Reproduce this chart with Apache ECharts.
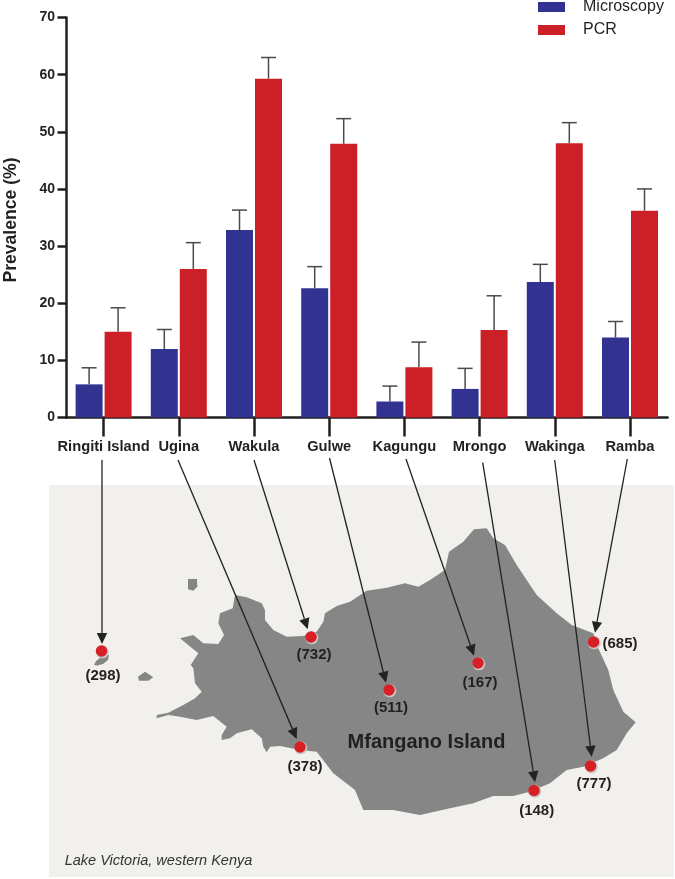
<!DOCTYPE html>
<html><head><meta charset="utf-8">
<style>html,body{margin:0;padding:0;background:#fff}#c{width:675px;height:879px}</style>
<script src="https://cdn.jsdelivr.net/npm/echarts@6/dist/echarts.min.js"></script>
</head><body><div id="c"></div>
<script>
const categories = ['Ringiti Island','Ugina','Wakula','Gulwe','Kagungu','Mrongo','Wakinga','Ramba'];
const microscopy = [5.8,12,32.8,22.6,2.8,5,23.7,14];
const pcr = [15,26,59.3,47.9,8.8,15.3,48,36.2];
const microscopyUpper = [8.7,15.4,36.3,26.4,5.5,8.6,26.8,16.8];
const pcrUpper = [19.2,30.6,63,52.3,13.2,21.3,51.6,40];
const yTicks = [0,10,20,30,40,50,60,70];

// Map layer, in map units (same scale as the picture)
const panel = [[49,485],[674,485],[674,877],[49,877]];
const island = [[235,595],[246.7,597.3],[261.7,603.3],[265,610],[265,620],[273.3,630],[286.7,636.7],[303.3,636],[316.7,631.7],[323.3,621.7],[325,613.3],[336.7,606],[350,601.7],[366.7,590.7],[386.7,587.7],[405,583.3],[418.3,586.7],[430,580],[445,570],[449,551.7],[463.3,541.7],[474,529.3],[486.7,528.3],[493.3,538.3],[505,545],[516.7,565],[536.7,595],[556.7,613.3],[571.7,625],[593.3,633.3],[598.3,648.3],[608.3,670],[613.3,690],[623.3,711.7],[635.7,722.3],[626.7,733.3],[616.7,750],[603.3,758.3],[583.3,766.7],[566.7,770],[550,783.3],[530,791.7],[513.3,796],[493.3,796],[473.3,803.3],[450,808.3],[420,815],[393.3,810],[363.3,810],[355,790],[333.3,773.3],[316.7,751.7],[300,750],[280,746],[270,746.7],[266.7,752.3],[263.3,746.7],[261.7,738.3],[251.7,729.3],[236.7,733.3],[230,738.3],[221.7,740],[221.7,735],[226.7,726.7],[213.3,716],[196.7,720],[180,716.7],[168.3,715],[156.7,718.3],[156.7,715],[168.3,712.7],[183.3,705],[195,698.3],[201.7,691.7],[195,683.3],[193.3,668.3],[190.7,665],[198.3,653.3],[180,638.3],[193.3,635],[203.3,643.3],[218.3,644],[224,635],[218.3,623.3],[220,613.3],[232.7,608.3]];
const islet1 = [[188,579],[197,579],[197.3,586.7],[193.3,590.7],[188,589.3]];
const islet2 = [[138,676.7],[145,671.7],[153.3,677.3],[148.3,680.7],[139,680.7]];
const islet3 = [[94,665],[96,661],[100,658],[103,655],[109,655],[108,660],[103,664],[97,665.5]];
const sites = [[101.5,651],[300,747],[311,637],[389,690],[478,663],[534,790.5],[590.5,766],[593.5,642]];
const arrowStarts = [[102,460],[178,460],[254,460],[329.5,458],[406,459],[482.7,462.7],[554.7,460],[627.3,459]];
const arrowEnds = [[102,644],[296.7,739],[307.7,629.3],[386,682.7],[474,655.7],[535,782.3],[591.7,756.7],[595,632.7]];
const countLabels = ['(298)','(378)','(732)','(511)','(167)','(148)','(777)','(685)'];
const countPositions = [[103,676],[305,767],[314,655],[391,708],[480,683],[536.7,810.7],[594,784],[620,644]];
const islandName = 'Mfangano Island', islandNamePos = [426.5,742.7];
const lakeName = 'Lake Victoria, western Kenya', lakeNamePos = [158.5,861];

const FONT = 'Liberation Sans', INK = '#231f20', BLUE = '#323391', RED = '#cb2027';

function errorSeries(upper, base, dx) {
  return {
    type: 'custom', xAxisIndex: 0, yAxisIndex: 0, z: 1, silent: true,
    data: upper.map((u, i) => [i, base[i], u]),
    renderItem(params, api) {
      const lo = api.coord([api.value(0), api.value(1)]);
      const hi = api.coord([api.value(0), api.value(2)]);
      const x = lo[0] + dx;
      const st = { stroke: '#4a4a4a', lineWidth: 1.5, fill: null };
      return { type: 'group', children: [
        { type: 'line', shape: { x1: x, y1: lo[1], x2: x, y2: hi[1] }, style: st },
        { type: 'line', shape: { x1: x - 7.5, y1: hi[1], x2: x + 7.5, y2: hi[1] }, style: st }
      ]};
    }
  };
}
function polygonSeries(points, color, z) {
  return {
    type: 'custom', xAxisIndex: 1, yAxisIndex: 1, z, silent: true, clip: false,
    data: [points[0]],
    renderItem(params, api) {
      return { type: 'polygon', shape: { points: points.map(p => api.coord(p)) }, style: { fill: color } };
    }
  };
}
function textSeries(texts, positions, style) {
  return {
    type: 'custom', xAxisIndex: 1, yAxisIndex: 1, z: 6, silent: true, clip: false,
    data: positions,
    renderItem(params, api) {
      const p = api.coord(positions[params.dataIndex]);
      return { type: 'text', style: Object.assign({ text: texts[params.dataIndex], x: p[0], y: p[1], align: 'center', verticalAlign: 'middle', fontFamily: FONT, fill: INK }, style) };
    }
  };
}
const arrowSeries = {
  type: 'custom', xAxisIndex: 1, yAxisIndex: 1, z: 4, silent: true, clip: false,
  data: arrowStarts.map((s, i) => [s[0], s[1], arrowEnds[i][0], arrowEnds[i][1]]),
  renderItem(params, api) {
    const a = api.coord([api.value(0), api.value(1)]);
    const b = api.coord([api.value(2), api.value(3)]);
    const dx = b[0] - a[0], dy = b[1] - a[1], L = Math.hypot(dx, dy);
    const ux = dx / L, uy = dy / L, len = 11, hw = 5.2;
    const bx = b[0] - ux * len, by = b[1] - uy * len;
    return { type: 'group', children: [
      { type: 'line', shape: { x1: a[0], y1: a[1], x2: bx, y2: by }, style: { stroke: '#222', lineWidth: 1.3, fill: null } },
      { type: 'polygon', shape: { points: [b, [bx - uy * hw, by + ux * hw], [bx + uy * hw, by - ux * hw]] }, style: { fill: '#222' } }
    ]};
  }
};

const chart = echarts.init(document.getElementById('c'), null, { renderer: 'canvas' });
chart.setOption({
  animation: false,
  backgroundColor: '#fff',
  legend: {
    data: ['Microscopy','PCR'], orient: 'vertical', left: 538, top: -1, padding: 0,
    itemWidth: 27, itemHeight: 10, itemGap: 7, icon: 'rect', selectedMode: false,
    textStyle: { fontFamily: FONT, fontSize: 16, color: INK, padding: [0,0,0,13] }
  },
  grid: [
    { left: 66, top: 17.5, width: 601.6, height: 400, outerBoundsMode: 'none', containLabel: false },
    { left: 0, top: 0, width: 675, height: 879, outerBoundsMode: 'none', containLabel: false }
  ],
  xAxis: [
    { type: 'category', data: categories, gridIndex: 0,
      axisLine: { onZero: false, lineStyle: { color: INK, width: 2.5 } },
      axisTick: { show: true, length: 19, alignWithLabel: true, lineStyle: { color: INK, width: 2.5 } },
      axisLabel: { interval: 0, margin: 22, fontFamily: FONT, fontWeight: 'bold', fontSize: 14.7, color: INK, hideOverlap: false } },
    { type: 'value', gridIndex: 1, min: 0, max: 675, show: false }
  ],
  yAxis: [
    { type: 'value', gridIndex: 0, min: yTicks[0], max: yTicks[yTicks.length-1], interval: yTicks[1]-yTicks[0],
      name: 'Prevalence (%)', nameLocation: 'middle', nameGap: 46, nameRotate: 90,
      nameTextStyle: { fontFamily: FONT, fontWeight: 'bold', fontSize: 17.6, color: INK, padding: [0,5,0,0] },
      splitLine: { show: false },
      axisLine: { show: true, lineStyle: { color: INK, width: 2.5 } },
      axisTick: { show: true, length: 8.5, lineStyle: { color: INK, width: 2.5 } },
      axisLabel: { margin: 11, fontFamily: FONT, fontWeight: 'bold', fontSize: 14, color: INK } },
    { type: 'value', gridIndex: 1, min: 0, max: 879, inverse: true, show: false }
  ],
  series: [
    polygonSeries(panel, '#f2f0ec', 0),
    polygonSeries(island, '#868686', 1),
    polygonSeries(islet1, '#868686', 1),
    polygonSeries(islet2, '#868686', 1),
    polygonSeries(islet3, '#868686', 1),
    errorSeries(microscopyUpper, microscopy, -14.5),
    errorSeries(pcrUpper, pcr, 14.5),
    { name: 'Microscopy', type: 'bar', xAxisIndex: 0, yAxisIndex: 0, data: microscopy, barWidth: 27, barGap: '7.4%', z: 2,
      itemStyle: { color: BLUE } },
    { name: 'PCR', type: 'bar', xAxisIndex: 0, yAxisIndex: 0, data: pcr, barWidth: 27, barGap: '7.4%', z: 2,
      itemStyle: { color: RED } },
    { type: 'scatter', xAxisIndex: 1, yAxisIndex: 1, data: sites, symbolSize: 13, symbolOffset: [0.8,0.8], z: 3, silent: true,
      itemStyle: { color: '#c9c7c4', opacity: 1 } },
    { type: 'scatter', xAxisIndex: 1, yAxisIndex: 1, data: sites, symbolSize: 11.5, z: 3, silent: true,
      itemStyle: { color: '#d71f26', opacity: 1 } },
    arrowSeries,
    textSeries(countLabels, countPositions, { fontWeight: 'bold', fontSize: 15 }),
    textSeries([islandName], [islandNamePos], { fontWeight: 'bold', fontSize: 20 }),
    textSeries([lakeName], [lakeNamePos], { fontStyle: 'italic', fontSize: 14.5, fill: '#333' })
  ]
});
</script></body></html>
